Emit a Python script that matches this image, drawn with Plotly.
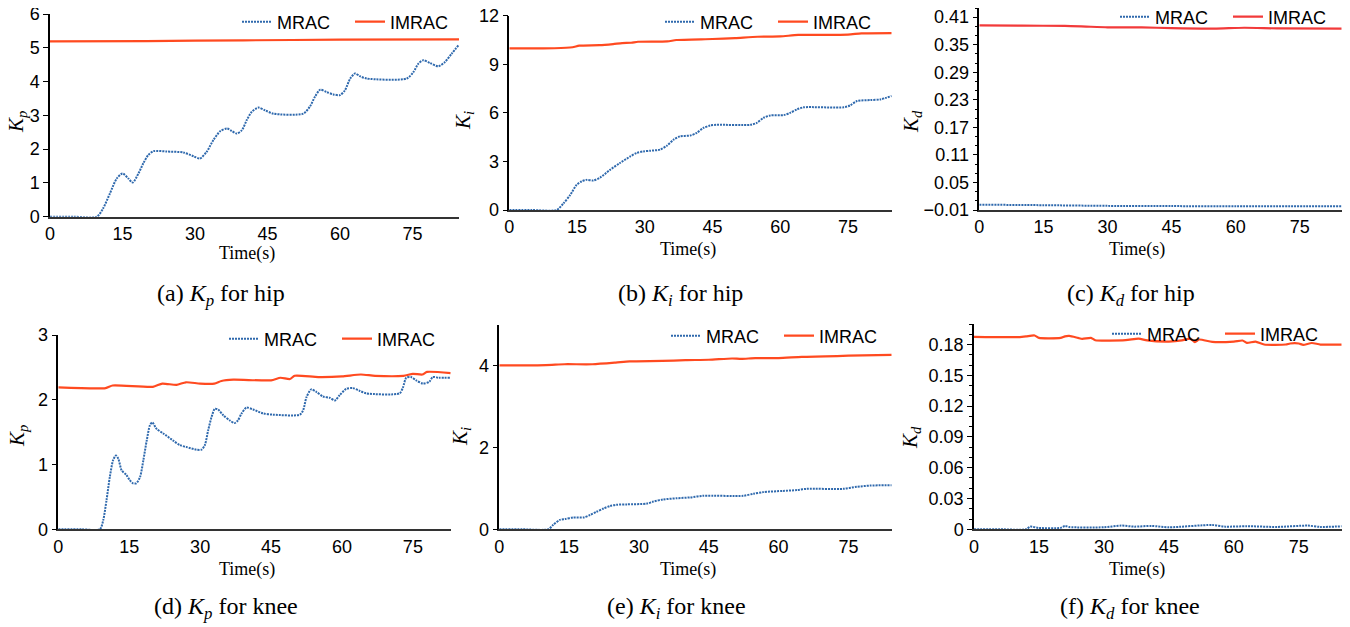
import plotly.graph_objects as go

# ---------------- DATA ----------------
# (a) Kp for hip
t_a_mrac = [0, 5, 9.7, 11, 12.4, 13.8, 15, 16.2, 17.1, 18.3, 19.3, 20.3, 21.4, 24.1, 27.6, 29.7, 31, 32.4, 33.8,
            35.2, 36.6, 37.6, 38.6, 39.7, 40.7, 41.7, 43.1, 44.5, 46.2, 52.4, 53.8, 54.8, 55.9, 57.2, 58.6, 60, 61,
            62.1, 63.1, 64.1, 65.5, 73.8, 75.2, 76.2, 77.2, 78.6, 80.3, 81.7, 83.1, 84.6]
kp_hip_mrac = [0, 0, 0, 0.25, 0.69, 1.13, 1.28, 1.13, 1.01, 1.28, 1.58, 1.82, 1.94, 1.93, 1.90, 1.79, 1.72, 1.92, 2.27,
               2.53, 2.61, 2.54, 2.46, 2.56, 2.86, 3.10, 3.23, 3.15, 3.05, 3.05, 3.27, 3.55, 3.76, 3.69, 3.62, 3.60,
               3.74, 4.09, 4.24, 4.16, 4.09, 4.09, 4.29, 4.53, 4.63, 4.55, 4.45, 4.58, 4.83, 5.09]
t_a_imrac = [0, 20, 40, 60, 84.6]
kp_hip_imrac = [5.19, 5.20, 5.22, 5.24, 5.25]

# (b) Ki for hip
t_b_mrac = [0, 5, 10.5, 12, 13.5, 14.9, 16, 17.1, 18.6, 20.1, 22.3, 24.5, 26.8, 28.2, 29.7, 31.2, 33.4, 34.9, 36.4,
            37.8, 40.1, 41.5, 43, 44.5, 46, 53.4, 54.8, 56.3, 57.8, 60.8, 62.2, 63.7, 65.2, 74.1, 75.5, 77, 80,
            82.2, 84.7]
ki_hip_mrac = [0, 0, 0, 0.41, 0.93, 1.55, 1.76, 1.86, 1.82, 2.0, 2.48, 2.9, 3.31, 3.52, 3.62, 3.66, 3.73, 3.97, 4.35,
               4.55, 4.6, 4.76, 5.07, 5.22, 5.26, 5.26, 5.38, 5.69, 5.84, 5.86, 6.0, 6.21, 6.34, 6.34, 6.46, 6.73,
               6.79, 6.83, 7.04]
t_b_imrac = [0, 10, 14, 15.5, 20, 23, 25, 27, 28.5, 35, 37, 45, 50, 55, 60, 64, 75, 78, 84.7]
ki_hip_imrac = [9.98, 9.99, 10.05, 10.15, 10.18, 10.25, 10.31, 10.33, 10.39, 10.41, 10.50, 10.56, 10.62, 10.70,
                10.72, 10.81, 10.83, 10.91, 10.93]

# (c) Kd for hip
t_c_mrac = [0, 15, 30, 45, 60, 84.8]
kd_hip_mrac = [0.0016, 0.0005, -0.0010, -0.0015, -0.0018, -0.0021]
t_c_imrac = [0, 10, 20, 25, 30, 38, 45, 55, 62, 70, 84.8]
kd_hip_imrac = [0.392, 0.3915, 0.391, 0.3895, 0.388, 0.388, 0.386, 0.385, 0.387, 0.3855, 0.385]

# (d) Kp for knee
t_d_mrac = [0, 5, 8.8, 9.5, 10.2, 10.9, 11.6, 12.2, 12.7, 13.4, 14.4, 15.1, 15.8, 16.5, 17.3, 18, 18.7, 19.4, 19.9,
            20.8, 22.2, 24.3, 25.7, 27.1, 29.2, 30.3, 31, 31.7, 32.4, 33.1, 33.8, 34.9, 36.3, 37.3, 38, 38.7, 39.8,
            41.2, 43.3, 45.4, 51.1, 51.8, 52.5, 53.5, 54.6, 56, 57.4, 58.5, 59.5, 60.9, 62.3, 63.7, 65.1, 72.2, 72.9,
            73.6, 74.6, 75.7, 77.1, 78.5, 79.2, 80.5, 83]
kp_knee_mrac = [0, 0, 0, 0.14, 0.45, 0.81, 1.07, 1.14, 1.09, 0.91, 0.84, 0.76, 0.71, 0.71, 0.81, 1.07, 1.37, 1.61,
                1.65, 1.55, 1.48, 1.37, 1.30, 1.27, 1.23, 1.23, 1.30, 1.53, 1.73, 1.86, 1.85, 1.76, 1.68, 1.64, 1.68,
                1.78, 1.88, 1.85, 1.79, 1.77, 1.77, 1.84, 2.04, 2.16, 2.12, 2.05, 2.03, 1.99, 2.07, 2.17, 2.18, 2.14,
                2.10, 2.10, 2.19, 2.34, 2.35, 2.30, 2.25, 2.28, 2.35, 2.34, 2.34]
t_d_imrac = [0, 10, 11.5, 20, 22, 25, 27, 30, 33, 34.5, 37, 45, 47, 49, 50, 55, 60, 64, 67, 73, 75, 77, 78, 83]
kp_knee_imrac = [2.19, 2.18, 2.22, 2.20, 2.25, 2.23, 2.27, 2.25, 2.25, 2.29, 2.31, 2.30, 2.34, 2.32, 2.37, 2.35,
                 2.36, 2.39, 2.37, 2.37, 2.40, 2.39, 2.43, 2.41]

# (e) Ki for knee
t_e_mrac = [0, 5, 10.5, 11.6, 13, 14.1, 15.9, 18.1, 19.5, 20.9, 22.4, 23.8, 25.2, 27.4, 31.7, 33.1, 35.2, 38.1, 41,
            43.8, 52.4, 54.6, 56.7, 61, 63.9, 66, 73.9, 76.8, 79.7, 84.3]
ki_knee_mrac = [0, 0, 0, 0.11, 0.23, 0.25, 0.29, 0.29, 0.35, 0.43, 0.51, 0.57, 0.60, 0.61, 0.63, 0.68, 0.73, 0.76,
                0.78, 0.82, 0.82, 0.87, 0.91, 0.94, 0.96, 0.99, 0.99, 1.04, 1.07, 1.08]
t_e_imrac = [0, 10, 14, 20, 25, 28, 35, 40, 45, 50, 52, 55, 60, 65, 70, 75, 84.3]
ki_knee_imrac = [4.01, 4.02, 4.04, 4.04, 4.08, 4.11, 4.12, 4.14, 4.15, 4.18, 4.17, 4.19, 4.19, 4.22, 4.23, 4.25, 4.27]

# (f) Kd for knee
t_f_mrac = [0, 6, 12, 13, 15, 20, 21, 22, 30, 34, 37, 41, 45, 55, 58, 63, 70, 77, 80, 84.9]
kd_knee_mrac = [0, 0, 0, 0.0026, 0.0013, 0.0014, 0.0033, 0.0022, 0.0020, 0.0036, 0.0026, 0.0033, 0.0020, 0.0042,
                0.0026, 0.0030, 0.0023, 0.0036, 0.0023, 0.0029]
t_f_imrac = [0, 10, 12, 14, 15, 20, 21, 22, 24, 25, 27, 28, 35, 38, 40, 45, 48, 50, 51, 52, 55, 60, 62, 63, 65, 67,
             72, 73, 75, 76, 78, 80, 84.9]
kd_knee_imrac = [0.1874, 0.1872, 0.1880, 0.1888, 0.1865, 0.1865, 0.1880, 0.1884, 0.1865, 0.1855, 0.1865, 0.1842,
                 0.1842, 0.1858, 0.1840, 0.1829, 0.1840, 0.1858, 0.1823, 0.1849, 0.1826, 0.1829, 0.1839, 0.1816,
                 0.1829, 0.1800, 0.1800, 0.1810, 0.1810, 0.1797, 0.1815, 0.1800, 0.1800]

captions = ["(a) <i>K</i><sub><i>p</i></sub> for hip", "(b) <i>K</i><sub><i>i</i></sub> for hip",
            "(c) <i>K</i><sub><i>d</i></sub> for hip", "(d) <i>K</i><sub><i>p</i></sub> for knee",
            "(e) <i>K</i><sub><i>i</i></sub> for knee", "(f) <i>K</i><sub><i>d</i></sub> for knee"]
ytitles = ["<i>K</i><sub><i>p</i></sub>", "<i>K</i><sub><i>i</i></sub>", "<i>K</i><sub><i>d</i></sub>",
           "<i>K</i><sub><i>p</i></sub>", "<i>K</i><sub><i>i</i></sub>", "<i>K</i><sub><i>d</i></sub>"]
xtitle = "Time(s)"
x_ticks = [0, 15, 30, 45, 60, 75]

# ---------------- LAYOUT ----------------
W, H = 1350, 627
OFF = 8  # default page body margin of the html page
SANS = "Liberation Sans, Arial, sans-serif"
SERIF = "Liberation Serif, Times New Roman, serif"
BLUE = "#2f69ad"
RED = "#ff4a20"


def px(x):
    return min(1.0, max(0.0, (x - OFF) / W))


def py(y):
    return min(1.0, max(0.0, 1 - (y - OFF) / H))


# pixel boxes in the page: (x0, x1, ytop, ybottom)
boxes = [(50, 459, 14, 216.7), (509.3, 891.7, 15.7, 210), (979.3, 1341.7, 8, 210),
         (58.3, 450.7, 335, 529.3), (499.3, 891.7, 325, 529.3), (974, 1341.7, 324, 529.3)]
xranges = [[0, 84.6], [0, 84.7], [0, 84.8], [0, 83], [0, 84.3], [0, 84.9]]
yaxes_cfg = [
    dict(range=[0, 6], tick0=0, dtick=1),
    dict(range=[0, 12], tick0=0, dtick=3),
    dict(range=[-0.01, 0.430], tick0=-0.01, dtick=0.06,
         minor=dict(tick0=-0.01, dtick=0.02, ticklen=3, ticks="outside", tickcolor="black")),
    dict(range=[0, 3], tick0=0, dtick=1),
    dict(range=[0, 5], tick0=0, dtick=2),
    dict(range=[0, 0.2], tick0=0, dtick=0.03,
         minor=dict(tick0=0, dtick=0.01, ticklen=3, ticks="outside", tickcolor="black")),
]
# legend anchor (right px, middle px)
leg_pos = [(463, 22), (886, 22), (1341, 17), (450, 339), (892, 336), (1333, 334)]
cap_pos = [(221, 295), (680, 295), (1131, 295), (226, 608), (676, 608), (1130, 608)]
xtitle_pos = [(247, 253), (688, 249), (1137, 249), (247, 569), (688, 569), (1137, 569)]
ytitle_pos = [(17, 122), (464, 121), (912, 121), (18, 436), (461, 437), (911, 438)]

series = [
    (t_a_mrac, kp_hip_mrac, t_a_imrac, kp_hip_imrac),
    (t_b_mrac, ki_hip_mrac, t_b_imrac, ki_hip_imrac),
    (t_c_mrac, kd_hip_mrac, t_c_imrac, kd_hip_imrac),
    (t_d_mrac, kp_knee_mrac, t_d_imrac, kp_knee_imrac),
    (t_e_mrac, ki_knee_mrac, t_e_imrac, ki_knee_imrac),
    (t_f_mrac, kd_knee_mrac, t_f_imrac, kd_knee_imrac),
]

fig = go.Figure()
layout = dict(width=W, height=H, margin=dict(l=0, r=0, t=0, b=0, autoexpand=False), paper_bgcolor="white",
              plot_bgcolor="white", showlegend=True, annotations=[])

for i, (tm, ym, ti, yi) in enumerate(series):
    n = i + 1
    xa = "x" if n == 1 else f"x{n}"
    ya = "y" if n == 1 else f"y{n}"
    lg = "legend" if n == 1 else f"legend{n}"
    fig.add_trace(go.Scatter(x=tm, y=ym, mode="lines", name="MRAC", xaxis=xa, yaxis=ya, legend=lg,
                             line=dict(color=BLUE, width=2, dash="2px,1px", shape="spline", smoothing=0.7)))
    fig.add_trace(go.Scatter(x=ti, y=yi, mode="lines", name="IMRAC", xaxis=xa, yaxis=ya, legend=lg,
                             line=dict(color=RED if n != 3 else "#f23a3a", width=2.2, shape="spline",
                                       smoothing=0.6)))
    x0, x1, yt, yb = boxes[i]
    xkey = "xaxis" if n == 1 else f"xaxis{n}"
    ykey = "yaxis" if n == 1 else f"yaxis{n}"
    layout[xkey] = dict(domain=[px(x0), px(x1)], anchor=ya, range=xranges[i], tickvals=x_ticks,
                        automargin=False, showgrid=False, zeroline=False, showline=True, linecolor="#333",
                        linewidth=1.5, ticks="", ticklabeloverflow="allow",
                        tickfont=dict(family=SANS, size=18, color="black"))
    ycfg = dict(domain=[py(yb), py(yt)], anchor=xa, showgrid=False, zeroline=False, automargin=False,
                showline=True, linecolor="black", linewidth=1.5, ticks="outside", ticklen=5,
                tickcolor="black", ticklabeloverflow="allow",
                tickfont=dict(family=SANS, size=18, color="black"))
    ycfg.update(yaxes_cfg[i])
    layout[ykey] = ycfg
    lx, ly = leg_pos[i]
    layout[lg] = dict(x=px(lx), y=py(ly), xanchor="right", yanchor="middle", orientation="h",
                      bgcolor="rgba(0,0,0,0)", font=dict(family=SANS, size=18, color="black"),
                      entrywidth=68, entrywidthmode="pixels", tracegroupgap=0)
    cx, cy = cap_pos[i]
    layout["annotations"].append(dict(text=captions[i], x=px(cx), y=py(cy), xref="paper", yref="paper",
                                      showarrow=False, xanchor="center", yanchor="middle",
                                      font=dict(family=SERIF, size=24, color="black")))
    tx, ty = xtitle_pos[i]
    layout["annotations"].append(dict(text=xtitle, x=px(tx), y=py(ty), xref="paper", yref="paper",
                                      showarrow=False, xanchor="center", yanchor="middle",
                                      font=dict(family=SERIF, size=18, color="black")))
    yx, yy = ytitle_pos[i]
    layout["annotations"].append(dict(text=ytitles[i], x=px(yx), y=py(yy), xref="paper", yref="paper",
                                      showarrow=False, xanchor="center", yanchor="middle", textangle=-90,
                                      font=dict(family=SERIF, size=21, color="black")))

fig.update_layout(**layout)
fig.write_html("out.html")
